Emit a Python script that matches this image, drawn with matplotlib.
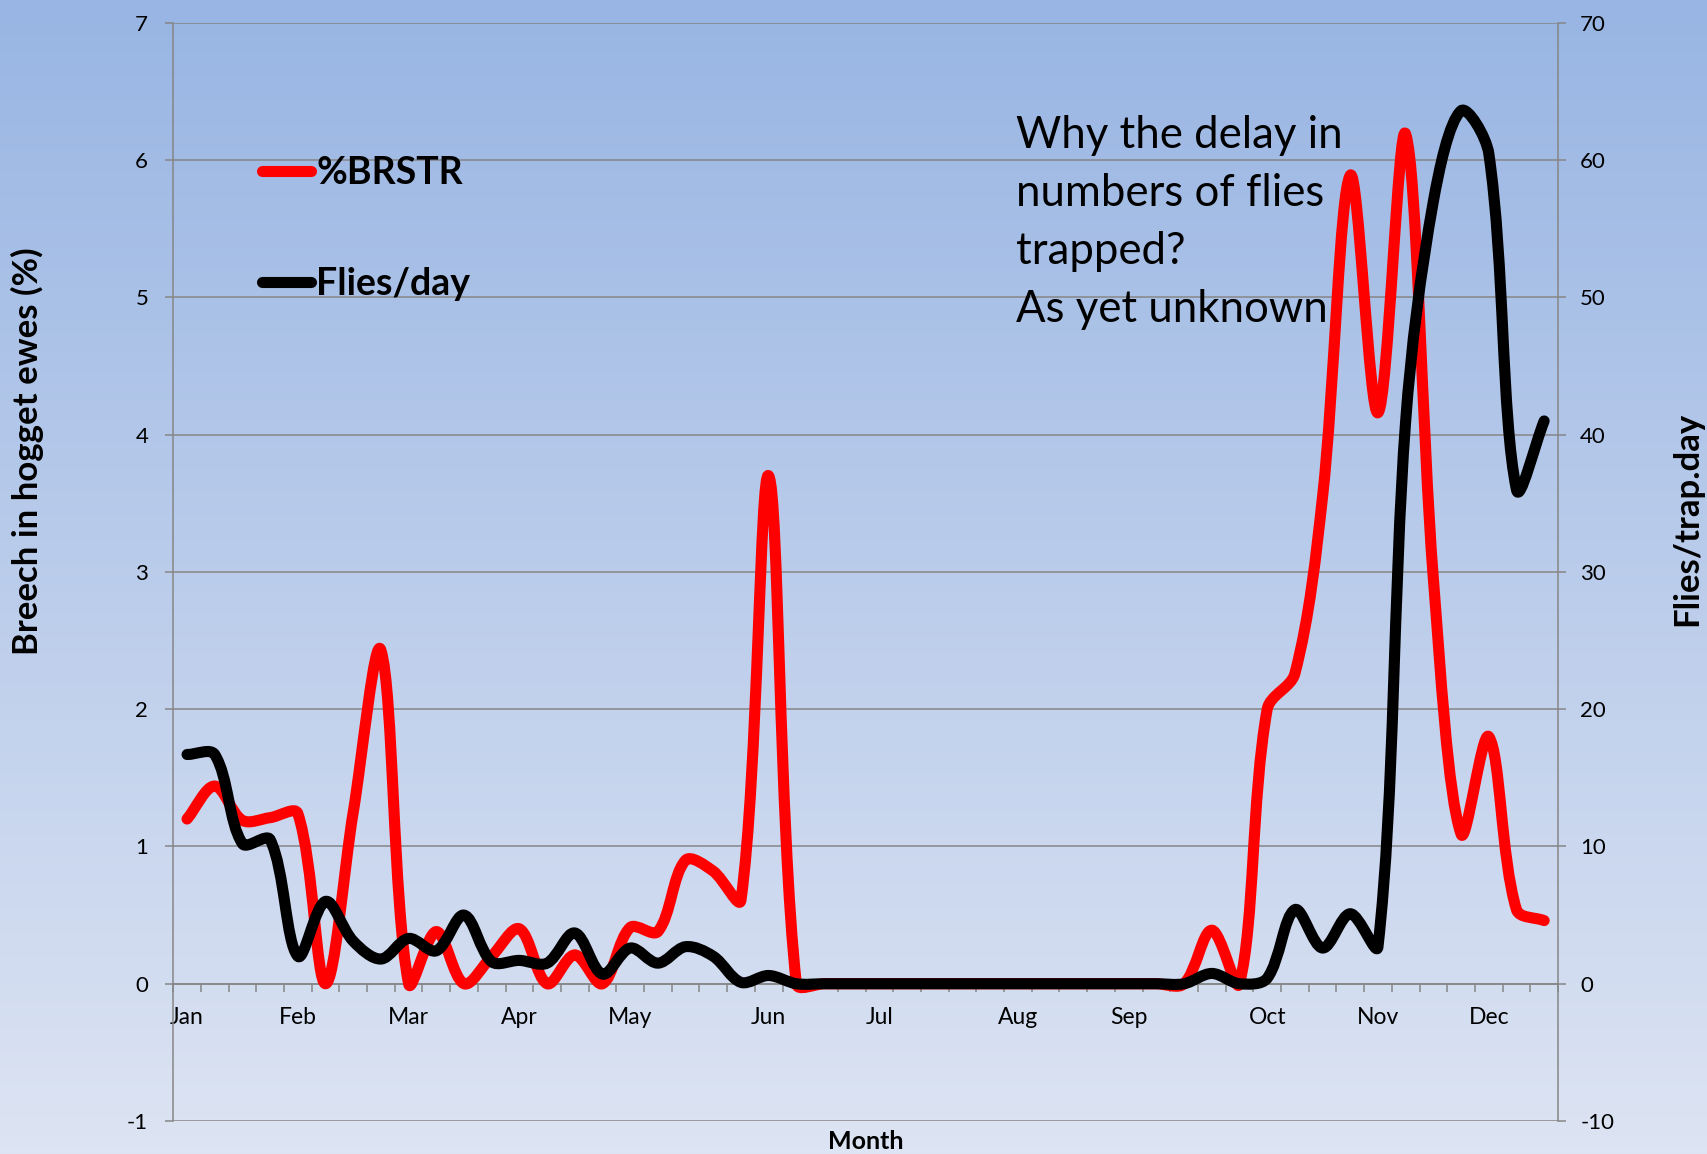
import numpy as np
import matplotlib
matplotlib.use("Agg")
import matplotlib.pyplot as plt
from matplotlib.path import Path
from matplotlib.patches import PathPatch
from matplotlib.lines import Line2D

# ---- data: 50 weekly samples through the year ----
n_weeks = 50
month_names = ["Jan", "Feb", "Mar", "Apr", "May", "Jun",
               "Jul", "Aug", "Sep", "Oct", "Nov", "Dec"]
month_start_week = [0, 4, 8, 12, 16, 21, 25, 30, 34, 39, 43, 47]

# breech strike in hogget ewes (%), left axis
brstr = [1.20, 1.44, 1.19, 1.21, 1.24, 0.00, 1.25, 2.43, 0.00, 0.38,
         0.00, 0.20, 0.40, 0.00, 0.21, 0.00, 0.41, 0.38, 0.90, 0.82,
         0.61, 3.70, 0.00, 0.00, 0.00, 0.00, 0.00, 0.00, 0.00, 0.00,
         0.00, 0.00, 0.00, 0.00, 0.00, 0.00, 0.00, 0.39, 0.00, 2.00,
         2.26, 3.55, 5.89, 4.16, 6.19, 2.95, 1.09, 1.80, 0.54, 0.46]

# flies per trap per day, right axis
flies = [16.7, 16.7, 10.2, 10.5, 2.0, 6.0, 3.1, 1.8, 3.3, 2.4,
         5.0, 1.6, 1.7, 1.5, 3.7, 0.7, 2.6, 1.5, 2.7, 2.0,
         0.1, 0.6, 0.0, 0.0, 0.0, 0.0, 0.0, 0.0, 0.0, 0.0,
         0.0, 0.0, 0.0, 0.0, 0.0, 0.0, 0.0, 0.75, 0.0, 0.4,
         5.4, 2.6, 5.1, 2.7, 41.0, 57.0, 63.6, 60.5, 36.0, 41.0]

left_ticks = list(range(-1, 8))
right_ticks = list(range(-10, 80, 10))

FONT = "Lato"
GRID = "#868686"
W, H = 1708, 1154


def smooth_path(xs, ys, sx, sy):
    """Smooth Bezier curve through the points.

    Tangents follow the neighbouring points; each side's handle is scaled by
    that side's share of the chord length (measured in pixels via sx, sy), so
    short flat stretches next to steep jumps do not overshoot.
    """
    p = np.column_stack([np.asarray(xs, float) * sx, np.asarray(ys, float) * sy])
    n = len(p)
    c_out = np.zeros_like(p)
    c_in = np.zeros_like(p)
    for i in range(n):
        prev_p = p[max(i - 1, 0)]
        next_p = p[min(i + 1, n - 1)]
        tan = next_p - prev_p
        d_prev = np.linalg.norm(p[i] - prev_p)
        d_next = np.linalg.norm(next_p - p[i])
        tot = d_prev + d_next
        if tot == 0:
            c_out[i] = c_in[i] = p[i]
            continue
        c_out[i] = p[i] + tan * (d_next / tot) / 3.0
        c_in[i] = p[i] - tan * (d_prev / tot) / 3.0
    verts = [p[0]]
    codes = [Path.MOVETO]
    for i in range(n - 1):
        verts += [c_out[i], c_in[i + 1], p[i + 1]]
        codes += [Path.CURVE4] * 3
    verts = np.array(verts) / np.array([sx, sy])
    return Path(verts, codes)


fig = plt.figure(figsize=(W / 100, H / 100), dpi=100)

# vertical blue gradient behind everything
bg = fig.add_axes([0, 0, 1, 1], zorder=0)
top_c = np.array([152, 181, 227]) / 255.0
bot_c = np.array([221, 228, 243]) / 255.0
t = np.linspace(0, 1, 256)[:, None]
grad = (top_c[None, :] * (1 - t) + bot_c[None, :] * t)[:, None, :]
bg.imshow(grad, aspect="auto", extent=[0, 1, 0, 1], origin="upper")
bg.set_axis_off()

left, right, top, bottom = 173.2, 1558.0, 22.9, 1121.0
ax = fig.add_axes([left / W, 1 - bottom / H, (right - left) / W, (bottom - top) / H])
ax.set_zorder(1)
ax.patch.set_visible(False)

x = np.arange(n_weeks)
ax.set_xlim(-0.5, n_weeks - 0.5)
ax.set_ylim(-1, 7)
ax.set_yticks(left_ticks)
ax.set_yticklabels([str(v) for v in left_ticks])
for v in left_ticks:
    ax.axhline(v, color=GRID, lw=1.1, zorder=0.5)

for s in ["top", "right"]:
    ax.spines[s].set_visible(False)
ax.spines["left"].set_color(GRID)
ax.spines["left"].set_linewidth(1.1)
ax.spines["bottom"].set_position(("data", 0))
ax.spines["bottom"].set_color(GRID)
ax.spines["bottom"].set_linewidth(1.1)

ax.set_xticks(month_start_week)
ax.set_xticklabels(month_names)
ax.set_xticks(np.arange(-0.5, n_weeks, 1.0), minor=True)
ax.tick_params(axis="x", which="major", length=0, pad=17,
               labelsize=16.5, labelcolor="black")
ax.tick_params(axis="x", which="minor", length=6, width=1.1,
               color=GRID, direction="out")
ax.tick_params(axis="y", length=6, width=1.1, color=GRID, pad=12,
               labelsize=16)
for lab in ax.get_xticklabels() + ax.get_yticklabels():
    lab.set_fontfamily(FONT)

# pixel size of one data unit, used for the curve handles
px_x = (right - left) / n_weeks
px_left = (bottom - top) / 8.0
px_right = (bottom - top) / 80.0

ax.add_patch(PathPatch(smooth_path(x, brstr, px_x, px_left), fill=False,
                       edgecolor="#FF0000", lw=8, capstyle="round",
                       joinstyle="round", zorder=3))

ax2 = ax.twinx()
ax2.set_zorder(2)
ax2.patch.set_visible(False)
ax2.set_ylim(-10, 70)
ax2.set_yticks(right_ticks)
ax2.set_yticklabels([str(v) for v in right_ticks])
for s in ["top", "left", "bottom"]:
    ax2.spines[s].set_visible(False)
ax2.spines["right"].set_color(GRID)
ax2.spines["right"].set_linewidth(1.1)
ax2.tick_params(axis="y", length=6, width=1.1, color=GRID, pad=10,
                labelsize=16)
for lab in ax2.get_yticklabels():
    lab.set_fontfamily(FONT)

ax2.add_patch(PathPatch(smooth_path(x, flies, px_x, px_right), fill=False,
                        edgecolor="black", lw=8, capstyle="round",
                        joinstyle="round", zorder=3))

handles = [Line2D([], [], color="#FF0000", lw=8, solid_capstyle="round"),
           Line2D([], [], color="black", lw=8, solid_capstyle="round")]
leg = ax2.legend(handles, ["%BRSTR", "Flies/day"], loc="upper left",
                 bbox_to_anchor=(262 / W, 1 - 156 / H),
                 bbox_transform=fig.transFigure, frameon=False,
                 borderpad=0, borderaxespad=0, handlelength=1.3,
                 handletextpad=0.15, labelspacing=2.05,
                 prop={"family": FONT, "weight": "bold", "size": 27})

fig.text(1016 / W, 1 - 115 / H,
         "Why the delay in\nnumbers of flies\ntrapped?\nAs yet unknown",
         family=FONT, fontsize=31.5, ha="left", va="top", linespacing=1.52,
         zorder=5)

fig.text(27 / W, 1 - 451 / H, "Breech in hogget ewes (%)", rotation=90,
         family=FONT, weight="bold", fontsize=25, ha="center", va="center")
fig.text(1687 / W, 1 - 519 / H, "Flies/trap.day", rotation=90,
         family=FONT, weight="bold", fontsize=25, ha="center", va="center")
fig.text(866 / W, 1 - 1149 / H, "Month", family=FONT, weight="bold",
         fontsize=18, ha="center", va="baseline")

fig.savefig("out.png", dpi=100)
